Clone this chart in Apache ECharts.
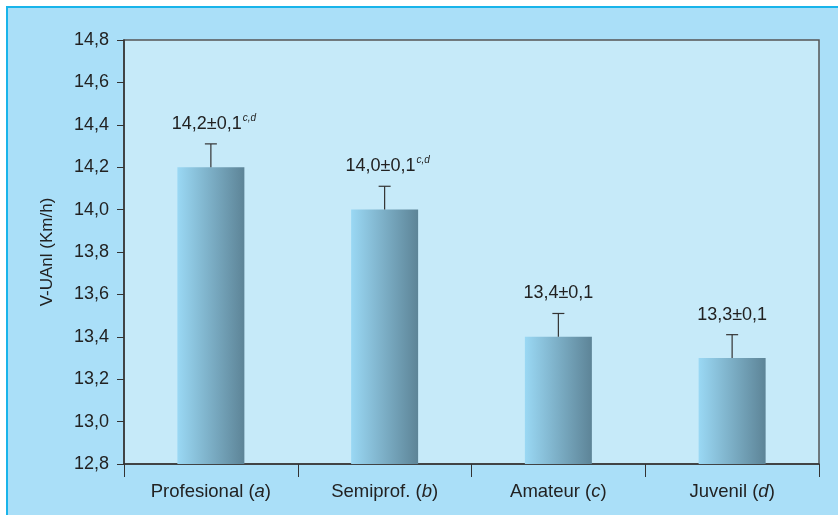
<!DOCTYPE html>
<html>
<head>
<meta charset="utf-8">
<script src="https://cdn.jsdelivr.net/npm/echarts@6/dist/echarts.min.js"></script>
<style>
html,body{margin:0;padding:0;background:#fff;}
#c{width:838px;height:515px;}
</style>
</head>
<body>
<div id="c"></div>
<script>
var categories = ['Profesional', 'Semiprof.', 'Amateur', 'Juvenil'];
var letters = ['a', 'b', 'c', 'd'];
var values = [14.2, 14.0, 13.4, 13.3];
var errors = [0.11, 0.11, 0.11, 0.11];
var labelTexts = ['14,2±0,1', '14,0±0,1', '13,4±0,1', '13,3±0,1'];
var superscripts = ['c,d', 'c,d', '', ''];
var yTicks = [12.8, 13.0, 13.2, 13.4, 13.6, 13.8, 14.0, 14.2, 14.4, 14.6, 14.8];

var FONT = '"Liberation Sans", Arial, sans-serif';
var chart = echarts.init(document.getElementById('c'));

var customData = values.map(function (v, i) { return [i, v, errors[i]]; });

chart.setOption({
  backgroundColor: '#aadff8',
  animation: false,
  textStyle: { fontFamily: FONT },
  graphic: [
    { type: 'rect', shape: { x: 0, y: 0, width: 838, height: 6 }, style: { fill: '#ffffff' }, z: 100 },
    { type: 'rect', shape: { x: 0, y: 0, width: 6, height: 515 }, style: { fill: '#ffffff' }, z: 100 },
    { type: 'rect', shape: { x: 6, y: 6, width: 832, height: 2 }, style: { fill: '#19b4ea' }, z: 100 },
    { type: 'rect', shape: { x: 6, y: 6, width: 2, height: 509 }, style: { fill: '#19b4ea' }, z: 100 }
  ],
  grid: {
    left: 124, right: 19, top: 40, bottom: 51,
    show: true, backgroundColor: '#c6eaf9', borderColor: '#555', borderWidth: 1.5
  },
  xAxis: {
    type: 'category',
    data: categories.map(function (c, i) { return c + ' (' + letters[i] + ')'; }),
    axisLine: { lineStyle: { color: '#333', width: 1.5 } },
    axisTick: { show: true, length: 13, lineStyle: { color: '#333', width: 1 } },
    axisLabel: {
      margin: 18,
      formatter: function (v, i) {
        return '{n|' + categories[i] + ' (}{i|' + letters[i] + '}{n|)}';
      },
      rich: {
        n: { fontSize: 18.5, color: '#222', fontFamily: FONT },
        i: { fontSize: 18.5, color: '#222', fontStyle: 'italic', fontFamily: FONT }
      }
    }
  },
  yAxis: {
    type: 'value',
    min: yTicks[0], max: yTicks[yTicks.length - 1], interval: 0.2,
    name: 'V-UAnl (Km/h)',
    nameLocation: 'middle',
    nameGap: 68,
    nameTextStyle: { fontSize: 17, color: '#222', fontFamily: FONT },
    axisLine: { show: true, lineStyle: { color: '#333', width: 1.5 } },
    axisTick: { show: true, length: 7, lineStyle: { color: '#333' } },
    splitLine: { show: false },
    axisLabel: {
      margin: 15, fontSize: 18, color: '#222',
      formatter: function (v) { return v.toFixed(1).replace('.', ','); }
    }
  },
  series: [
    {
      type: 'bar',
      data: values,
      barWidth: 67,
      itemStyle: {
        color: new echarts.graphic.LinearGradient(0, 0, 1, 0, [
          { offset: 0, color: '#9ad8f4' },
          { offset: 1, color: '#5d8497' }
        ])
      },
      z: 2
    },
    {
      type: 'custom',
      data: customData,
      z: 3,
      renderItem: function (params, api) {
        var idx = api.value(0), v = api.value(1), e = api.value(2);
        var base = api.coord([idx, v]);
        var top = api.coord([idx, v + e]);
        var i = params.dataIndex;
        var txt = '{n|' + labelTexts[i] + '}' + (superscripts[i] ? '{s|' + superscripts[i] + '}' : '');
        return {
          type: 'group',
          children: [
            { type: 'line', shape: { x1: base[0], y1: base[1], x2: top[0], y2: top[1] }, style: { stroke: '#333', lineWidth: 1.2 } },
            { type: 'line', shape: { x1: top[0] - 6, y1: top[1], x2: top[0] + 6, y2: top[1] }, style: { stroke: '#333', lineWidth: 1.2 } },
            {
              type: 'text',
              x: top[0] + (superscripts[i] ? 3 : 0), y: top[1] - 9,
              style: {
                text: txt,
                textAlign: 'center', textVerticalAlign: 'bottom',
                rich: {
                  n: { fontSize: 18, fill: '#222', fontFamily: FONT, lineHeight: 22 },
                  s: { fontSize: 10, fill: '#222', fontStyle: 'italic', fontFamily: FONT, verticalAlign: 'top', lineHeight: 22, padding: [0, 0, 12, 1] }
                }
              }
            }
          ]
        };
      }
    }
  ]
});
</script>
</body>
</html>
